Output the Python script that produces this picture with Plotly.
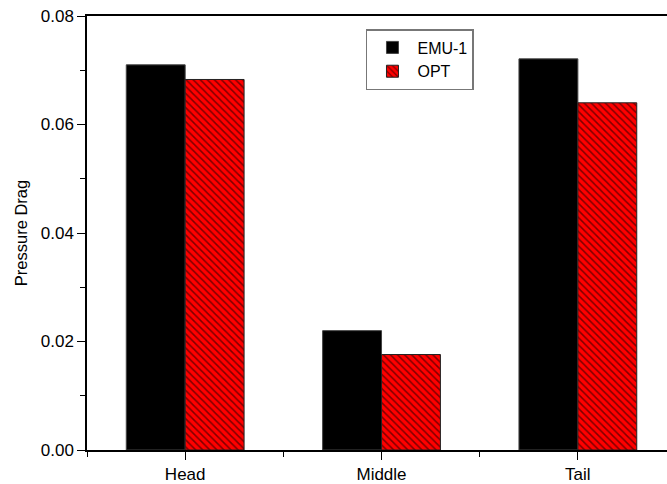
import plotly.graph_objects as go

categories = ["Head", "Middle", "Tail"]
emu1 = [0.0710, 0.0220, 0.0721]
opt = [0.0683, 0.0176, 0.0640]
y_ticks = [0.00, 0.02, 0.04, 0.06, 0.08]
y_ticklabels = ["0.00", "0.02", "0.04", "0.06", "0.08"]

xpos = list(range(len(categories)))

fig = go.Figure()
fig.add_trace(go.Bar(
    x=xpos, y=emu1, name="EMU-1",
    marker=dict(color="black", line=dict(color="#444444", width=1)),
))
fig.add_trace(go.Bar(
    x=xpos, y=opt, name="OPT",
    marker=dict(color="#ff0000", line=dict(color="#222222", width=1),
                pattern=dict(shape="\\", fgcolor="black", bgcolor="#ff0000",
                             size=5, solidity=0.3)),
))

font = "Liberation Sans, Arial, sans-serif"
fig.update_layout(
    width=667, height=484,
    margin=dict(l=87, r=0, t=16, b=32),
    paper_bgcolor="white", plot_bgcolor="white",
    barmode="group", bargap=0.4, bargroupgap=0,
    font=dict(family=font, size=16, color="black"),
    showlegend=True,
    legend=dict(x=0.481, y=0.97, xanchor="left", yanchor="top",
                bordercolor="#777777", borderwidth=1.5, bgcolor="white",
                font=dict(size=16), tracegroupgap=0, itemwidth=40),
    xaxis=dict(
        range=[-0.5, 2.454], tickmode="array", tickvals=xpos, ticktext=categories,
        showline=True, linecolor="black", linewidth=1.5, mirror=True,
        ticks="outside", ticklen=8, tickwidth=1.2, tickcolor="black",
        minor=dict(tick0=0.5, dtick=1, ticks="outside", ticklen=5, tickcolor="black"),
        showgrid=False, zeroline=False, tickfont=dict(size=17),
    ),
    yaxis=dict(
        range=[0, 0.08], tickmode="array", tickvals=y_ticks, ticktext=y_ticklabels,
        showline=True, linecolor="black", linewidth=1.5,
        ticks="outside", ticklen=8, tickwidth=1.2, tickcolor="black",
        minor=dict(dtick=0.01, ticks="outside", ticklen=5, tickcolor="black"),
        showgrid=False, zeroline=False, tickfont=dict(size=17),
        title=dict(text="Pressure Drag", font=dict(size=16.5), standoff=9),
    ),
)

fig.write_html(
    "out.html",
    config={"displayModeBar": False},
    post_script="document.documentElement.style.margin='0';document.body.style.margin='0';document.body.style.overflow='hidden';",
)
